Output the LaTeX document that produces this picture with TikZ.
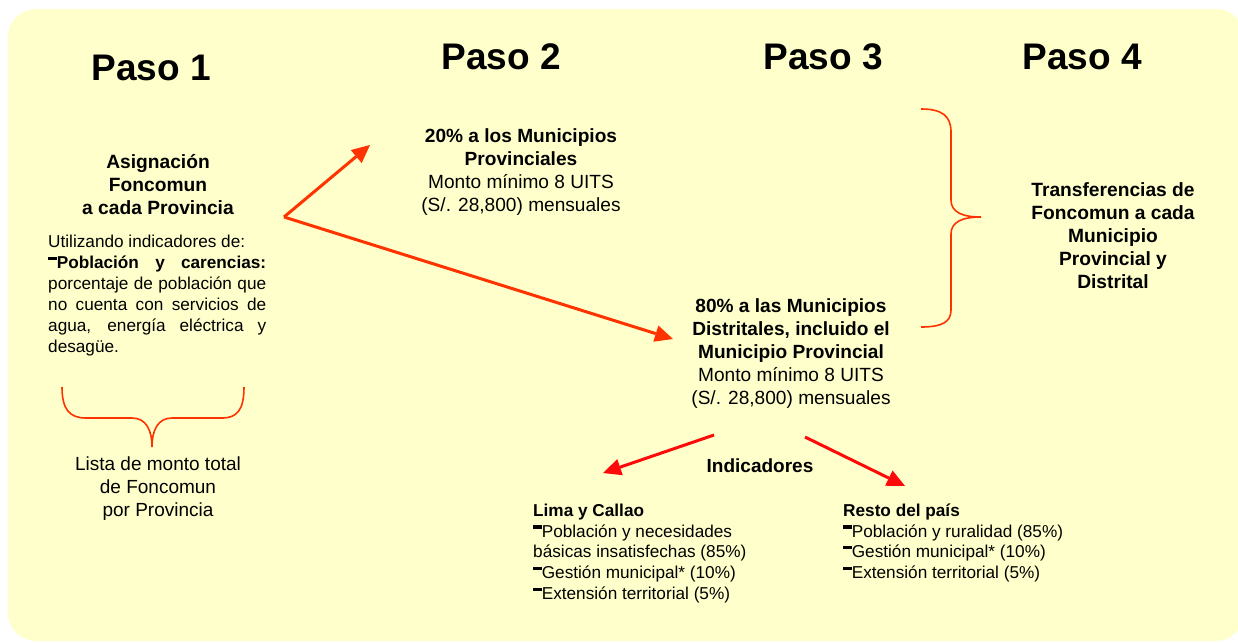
\documentclass[tikz,border=0pt]{standalone}
\usepackage{fontspec}
\setmainfont{Liberation Sans}
\usetikzlibrary{arrows.meta}
\definecolor{bgyellow}{HTML}{FFFFCC}
\definecolor{orred}{HTML}{FF3300}
\definecolor{pured}{HTML}{FF0A0A}
\newcommand{\dsh}{\raisebox{0.5em}{\rule{0.5em}{0.19em}}}
\newcommand{\fs}[2]{\fontsize{#1}{#2}\selectfont}
\tikzset{
  paso/.style={font=\fs{37}{44}\bfseries, inner sep=0pt},
  bodyb/.style={align=center, inner sep=0pt},
  orarrow/.style={draw=orred, line width=3pt, -{Triangle[length=18pt,width=17pt,line width=0pt,fill=orred]}},
  rdarrow/.style={draw=pured, line width=3pt, -{Triangle[length=18pt,width=17pt,line width=0pt,fill=pured]}},
  bracestyle/.style={draw=orred, line width=1.6pt},
}
\begin{document}
\begin{tikzpicture}[x=1pt,y=-1pt]
\useasboundingbox (0,0) rectangle (1238,642);
\fill[bgyellow, rounded corners=28pt] (8,9) rectangle (1244,641);

% titles
\node[paso] (p1) at (151,68) {Paso 1};
\node[paso] (p2) at (501,57) {Paso 2};
\node[paso] (p3) at (823,57) {Paso 3};
\node[paso] (p4) at (1082,57) {Paso 4};

% step 1
\node[bodyb, font=\fs{19.2}{23}\bfseries] (asig) at (158,185) {Asignación\\Foncomun\\a cada Provincia};
\node[inner sep=0pt, anchor=west, align=left, font=\fs{17.2}{21}] (util) at (48,296) {%
Utilizando indicadores de:\\
\makebox[218pt][s]{\dsh\textbf{Población y carencias:}}\\
\makebox[218pt][s]{porcentaje de población que}\\
\makebox[218pt][s]{no cuenta con servicios de}\\
\makebox[218pt][s]{agua, energía eléctrica y}\\
desagüe.};
\node[bodyb, font=\fs{19}{23}] (lista) at (158,489) {Lista de monto total\\de Foncomun\\por Provincia};

% step 2
\node[bodyb, font=\fs{19.1}{23}] (prov) at (521,172) {\textbf{20\% a los Municipios}\\\textbf{Provinciales}\\Monto mínimo 8 UITS\\(S/. 28,800) mensuales};
\node[bodyb, font=\fs{19.1}{23}] (dist) at (791,354) {\textbf{80\% a las Municipios}\\\textbf{Distritales, incluido el}\\\textbf{Municipio Provincial}\\Monto mínimo 8 UITS\\(S/. 28,800) mensuales};

% step 4
\node[bodyb, font=\fs{19.2}{23}\bfseries] (transf) at (1113,236) {Transferencias de\\Foncomun a cada\\Municipio\\Provincial y\\Distrital};

% indicators
\node[inner sep=0pt, font=\fs{19}{23}\bfseries] (ind) at (760,466) {Indicadores};
\node[inner sep=0pt, anchor=west, align=left, font=\fs{17.2}{20.75}] (lima) at (533,553.5) {%
\textbf{Lima y Callao}\\
\dsh Población y necesidades\\
básicas insatisfechas (85\%)\\
\dsh Gestión municipal* (10\%)\\
\dsh Extensión territorial (5\%)};
\node[inner sep=0pt, anchor=west, align=left, font=\fs{17.2}{20.75}] (resto) at (843,543) {%
\textbf{Resto del país}\\
\dsh Población y ruralidad (85\%)\\
\dsh Gestión municipal* (10\%)\\
\dsh Extensión territorial (5\%)};

% connectors
\coordinate (fork) at (284,217);
\coordinate (provtip) at (370,145);
\coordinate (disttip) at (673,339);
\draw[orarrow] (fork) -- (provtip);
\draw[orarrow] (fork) -- (disttip);

\coordinate (ls) at (714,435);
\coordinate (le) at (603,473);
\coordinate (rs) at (805,437);
\coordinate (re) at (905,486);
\draw[rdarrow] (ls) -- (le);
\draw[rdarrow] (rs) -- (re);

% braces
\draw[bracestyle] (921,109) .. controls (942,109) and (951,116) .. (951,132) -- (951,200)
  .. controls (951,212) and (962,217) .. (981,217)
  .. controls (962,217) and (951,222) .. (951,234) -- (951,310)
  .. controls (951,322) and (942,327) .. (921,327);
\draw[bracestyle] (62,387) .. controls (62,410) and (70,418) .. (86,418) -- (132,418)
  .. controls (146,418) and (152,430) .. (152,447)
  .. controls (152,430) and (158,418) .. (172,418) -- (222,418)
  .. controls (237,418) and (244,410) .. (244,387);
\end{tikzpicture}
\end{document}
